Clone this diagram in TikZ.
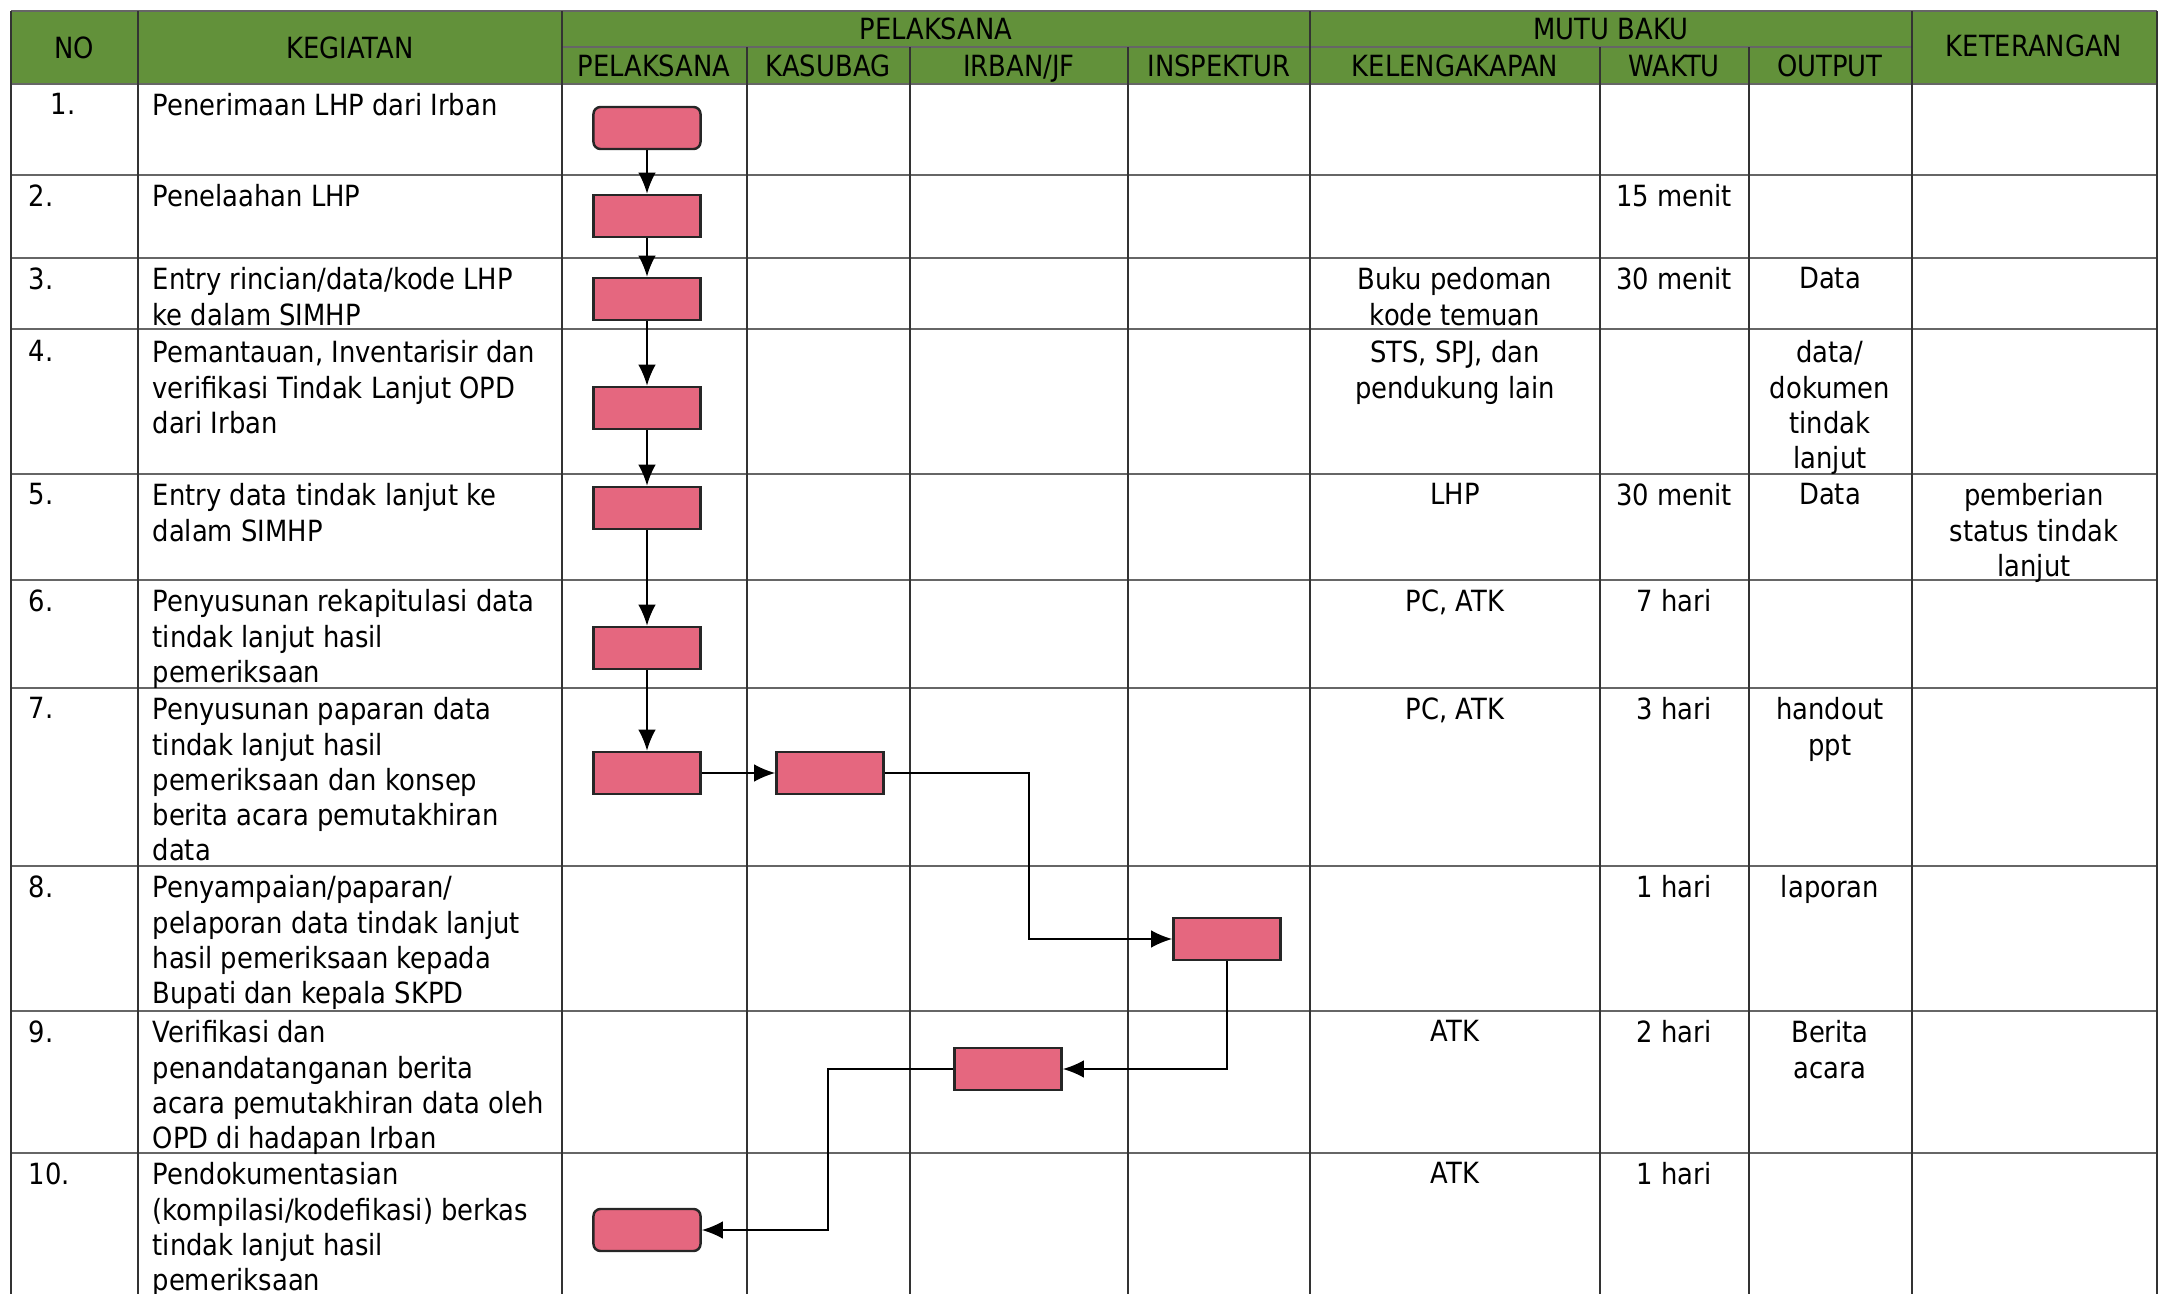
\documentclass[tikz,border=0pt]{standalone}
\usepackage{fontspec}
\setmainfont{DejaVu Sans}[FakeStretch=0.885]
\usetikzlibrary{positioning, arrows.meta}
\definecolor{hijau}{HTML}{62913A}
\definecolor{merah}{HTML}{E5677F}
\tikzset{
>={Latex[length=6pt,width=5pt]}, % filled arrow heads
every node/.style={font=\fontsize{8.3}{10}\selectfont, inner sep=0pt},
proses/.style={draw=black!85, line width=0.7pt, fill=merah, minimum width=1.07cm, minimum height=0.42cm}, % one step of the flow
mulai/.style={proses, rounded corners=2pt}, % first and last step
kiri/.style={anchor=north west, align=left},
tengah/.style={anchor=north, align=center},
judul/.style={anchor=center, text height=6pt, text depth=1.2pt},
alur/.style={->, line width=0.55pt},
}

\begin{document}
\begin{tikzpicture}[x=0.01cm, y=-0.01cm]
        \useasboundingbox (0,0) rectangle (2165,1294);

        % Header
        \fill[hijau] (11,11) rectangle (2157,84);
        \node[judul] (h-no) at (74,50) {NO};
        \node[judul] (h-keg) at (350,50) {KEGIATAN};
        \node[judul] (h-pel) at (936,31) {PELAKSANA};
        \node[judul] (h-mutu) at (1611,31) {MUTU BAKU};
        \node[judul] (h-ket) at (2034,48) {KETERANGAN};
        \node[judul] (h-pelaksana) at (654,68) {PELAKSANA};
        \node[judul] (h-kasubag) at (828,68) {KASUBAG};
        \node[judul] (h-irban) at (1019,68) {IRBAN/JF};
        \node[judul] (h-inspektur) at (1219,68) {INSPEKTUR};
        \node[judul] (h-kel) at (1455,68) {KELENGAKAPAN};
        \node[judul] (h-waktu) at (1674,68) {WAKTU};
        \node[judul] (h-output) at (1830,68) {OUTPUT};

        % Grid
        \foreach \y in {11,84,175,258,329,474,580,688,866,1011,1153}
            \draw[black!60, line width=0.5pt] (11,\y) -- (2157,\y);
        \draw[black!60, line width=0.5pt] (562,47) -- (1912,47);
        \foreach \x in {11,138,562,1310,1912,2157}
            \draw[black!80, line width=0.4pt] (\x,11) -- (\x,1294);
        \foreach \x in {747,910,1128,1600,1749}
            \draw[black!80, line width=0.4pt] (\x,47) -- (\x,1294);

        % Rows
        \node[kiri] (no-1) at (50,93) {1.};
        \node[kiri] (keg-1) at (152,93) {Penerimaan LHP dari Irban};

        \node[kiri] (no-2) at (28,184) {2.};
        \node[kiri] (keg-2) at (152,184) {Penelaahan LHP};
        \node[tengah] (wkt-2) at (1674,184) {15 menit};

        \node[kiri] (no-3) at (28,267) {3.};
        \node[kiri] (keg-3) at (152,267) {Entry rincian/data/kode LHP\\ke dalam SIMHP};
        \node[tengah] (kel-3) at (1455,267) {Buku pedoman\\kode temuan};
        \node[tengah] (wkt-3) at (1674,267) {30 menit};
        \node[tengah] (out-3) at (1830,267) {Data};

        \node[kiri] (no-4) at (28,340) {4.};
        \node[kiri] (keg-4) at (152,340) {Pemantauan, Inventarisir dan\\verifikasi Tindak Lanjut OPD\\dari Irban};
        \node[tengah] (kel-4) at (1455,340) {STS, SPJ, dan\\pendukung lain};
        \node[tengah] (out-4) at (1830,340) {data/\\dokumen\\tindak\\lanjut};

        \node[kiri] (no-5) at (28,483) {5.};
        \node[kiri] (keg-5) at (152,483) {Entry data tindak lanjut ke\\dalam SIMHP};
        \node[tengah] (kel-5) at (1455,483) {LHP};
        \node[tengah] (wkt-5) at (1674,483) {30 menit};
        \node[tengah] (out-5) at (1830,483) {Data};
        \node[tengah] (ket-5) at (2034,483) {pemberian\\status tindak\\lanjut};

        \node[kiri] (no-6) at (28,589) {6.};
        \node[kiri] (keg-6) at (152,589) {Penyusunan rekapitulasi data\\tindak lanjut hasil\\pemeriksaan};
        \node[tengah] (kel-6) at (1455,589) {PC, ATK};
        \node[tengah] (wkt-6) at (1674,589) {7 hari};

        \node[kiri] (no-7) at (28,697) {7.};
        \node[kiri] (keg-7) at (152,697) {Penyusunan paparan data\\tindak lanjut hasil\\pemeriksaan dan konsep\\berita acara pemutakhiran\\data};
        \node[tengah] (kel-7) at (1455,697) {PC, ATK};
        \node[tengah] (wkt-7) at (1674,697) {3 hari};
        \node[tengah] (out-7) at (1830,697) {handout\\ppt};

        \node[kiri] (no-8) at (28,875) {8.};
        \node[kiri] (keg-8) at (152,875) {Penyampaian/paparan/\\pelaporan data tindak lanjut\\hasil pemeriksaan kepada\\Bupati dan kepala SKPD};
        \node[tengah] (wkt-8) at (1674,875) {1 hari};
        \node[tengah] (out-8) at (1830,875) {laporan};

        \node[kiri] (no-9) at (28,1020) {9.};
        \node[kiri] (keg-9) at (152,1020) {Verifikasi dan\\penandatanganan berita\\acara pemutakhiran data oleh\\OPD di hadapan Irban};
        \node[tengah] (kel-9) at (1455,1020) {ATK};
        \node[tengah] (wkt-9) at (1674,1020) {2 hari};
        \node[tengah] (out-9) at (1830,1020) {Berita\\acara};

        \node[kiri] (no-10) at (28,1162) {10.};
        \node[kiri] (keg-10) at (152,1162) {Pendokumentasian\\(kompilasi/kodefikasi) berkas\\tindak lanjut hasil\\pemeriksaan};
        \node[tengah] (kel-10) at (1455,1162) {ATK};
        \node[tengah] (wkt-10) at (1674,1162) {1 hari};

        % Flow
        \node[mulai] (p1) at (647,128) {};
        \node[proses] (p2) at (647,216) {};
        \node[proses] (p3) at (647,299) {};
        \node[proses] (p4) at (647,408) {};
        \node[proses] (p5) at (647,508) {};
        \node[proses] (p6) at (647,648) {};
        \node[proses] (p7) at (647,773) {};
        \node[proses] (kasubag) at (830,773) {};
        \node[proses] (inspektur) at (1227,939) {};
        \node[proses] (irban) at (1008,1069) {};
        \node[mulai] (p10) at (647,1230) {};
        \coordinate (belok1) at (1029,773);
        \coordinate (belok2) at (828,1069);

        \foreach \a/\b in {p1/p2, p2/p3, p3/p4, p4/p5, p5/p6, p6/p7, p7/kasubag}
            \draw[alur] (\a) -- (\b);
        \draw[alur] (kasubag) -- (belok1) |- (inspektur);
        \draw[alur] (inspektur) |- (irban);
        \draw[alur] (irban) -- (belok2) |- (p10);
    \end{tikzpicture}
\end{document}
